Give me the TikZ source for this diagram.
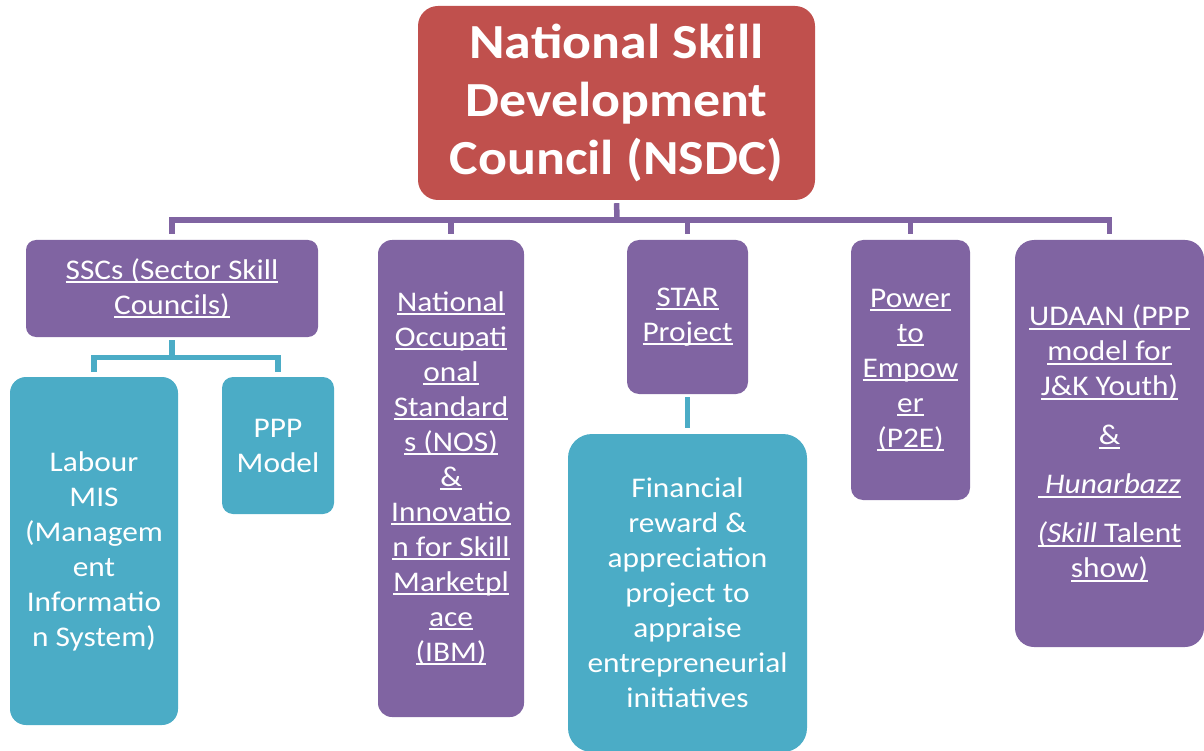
\documentclass[tikz,border=0pt]{standalone}
\usepackage{fontspec}
\setmainfont{Carlito}[FakeStretch=1.1]
\usetikzlibrary{positioning}
\definecolor{nsdcred}{HTML}{C0504D}
\definecolor{skillpurple}{HTML}{8064A2}
\definecolor{skillteal}{HTML}{4BACC6}
% underline a single line of text
\newsavebox{\ulnbox}
\newcommand{\uln}[1]{\sbox{\ulnbox}{#1}\rlap{\rule[-4pt]{\wd\ulnbox}{2pt}}\usebox{\ulnbox}}
\tikzset{
  every picture/.style={line join=miter, x=1pt, y=-1pt},
  box/.style={rectangle, inner sep=0pt, align=center, text=white,
    font=\fontsize{28.5}{35}\selectfont},
  rbox/.style={box, fill=nsdcred, font=\fontsize{49}{58}\selectfont\bfseries},
  pbox/.style={box, fill=skillpurple},
  tbox/.style={box, fill=skillteal},
  pline/.style={draw=skillpurple, line width=5.5pt},
  tline/.style={draw=skillteal, line width=5.5pt},
}

\begin{document}
\begin{tikzpicture}
\useasboundingbox (0,0) rectangle (1204,751);
\clip (0,0) rectangle (1204,751);

% top level
\node[rbox, minimum width=397pt, minimum height=194pt, rounded corners=20pt] (nsdc) at (616.5,103)
  {National Skill\\Development\\Council (NSDC)};

% second level
\node[pbox, minimum width=292pt, minimum height=97pt, rounded corners=10pt] (ssc) at (172,288.5)
  {\uln{SSCs (Sector Skill}\\\uln{Councils)}};
\node[pbox, minimum width=146pt, minimum height=477pt, rounded corners=14pt] (nos) at (451,478.5)
  {\uln{National}\\\uln{Occupati}\\\uln{onal}\\\uln{Standard}\\\uln{s (NOS)}\\\uln{\&}\\
   \uln{Innovatio}\\\uln{n for Skill}\\\uln{Marketpl}\\\uln{ace}\\\uln{(IBM)}};
\node[pbox, minimum width=121pt, minimum height=154pt, rounded corners=12pt] (star) at (687.5,317)
  {\uln{STAR}\\\uln{Project}};
\node[pbox, minimum width=119pt, minimum height=260pt, rounded corners=12pt] (ptoe) at (910.5,370)
  {\uln{Power}\\\uln{to}\\\uln{Empow}\\\uln{er}\\\uln{(P2E)}};
\node[pbox, minimum width=189pt, minimum height=407pt, rounded corners=19pt] (udaan) at (1109.5,443.5)
  {\uln{UDAAN (PPP}\\\uln{model for}\\\uln{J\&K Youth)}\\[14pt]
   \uln{\&}\\[14pt]
   \uln{\textit{\ Hunarbazz}}\\[14pt]
   \uln{\textit{(Skill} Talent}\\\uln{show)}};

% third level
\node[tbox, minimum width=168pt, minimum height=348pt, rounded corners=16pt] (lmis) at (94,551)
  {Labour\\MIS\\(Managem\\ent\\Informatio\\n System)};
\node[tbox, minimum width=112pt, minimum height=137pt, rounded corners=11pt] (ppp) at (278,445.5)
  {PPP\\Model};
\node[tbox, minimum width=239pt, minimum height=318pt, rounded corners=24pt] (fin) at (687.5,593)
  {Financial\\reward \&\\appreciation\\project to\\appraise\\entrepreneurial\\initiatives};

% connectors
\coordinate (bus) at (617,220);
\coordinate (tbus) at (172,357.5);
\draw[pline, shorten <=3pt] (nsdc.south) -- (bus);
\foreach \b in {ssc,nos,star,ptoe,udaan}
  \draw[pline, shorten >=6pt] (bus) -| (\b.north);
\draw[tline, shorten <=3pt] (ssc.south) -- (tbus);
\foreach \b in {lmis,ppp}
  \draw[tline, shorten >=5pt] (tbus) -| (\b.north);
\draw[tline, shorten <=3pt, shorten >=6pt] (star.south) -- (fin.north);
\end{tikzpicture}
\end{document}
